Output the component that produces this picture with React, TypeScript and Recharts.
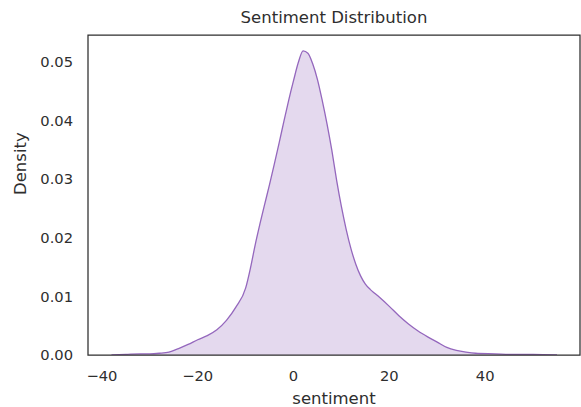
import React from 'react';
import {
  AreaChart,
  Area,
  XAxis,
  YAxis,
  ReferenceArea,
} from 'recharts';

// sentiment grid and KDE density
const SENTIMENT = [
  -38, -35, -32, -30, -28, -26, -24, -22, -20, -18, -16, -14, -12, -10, -9, -8, -7, -6, -5, -4,
  -3, -2, -1, 0, 1, 2, 3, 4, 5, 6, 7, 8, 9, 10, 11, 12, 13, 14, 15, 16, 17, 18, 20, 22, 24, 26,
  28, 30, 32, 34, 36, 38, 42, 46, 50, 55,
];
const DENSITY = [
  0.0, 0.0001, 0.0002, 0.0002, 0.0003, 0.0005, 0.0011, 0.0018, 0.0026, 0.0033, 0.0043, 0.0059,
  0.0082, 0.0114, 0.0148, 0.0188, 0.0224, 0.0258, 0.0291, 0.0326, 0.0362, 0.0399, 0.0435, 0.0468,
  0.0499, 0.0519, 0.0515, 0.0497, 0.0470, 0.0434, 0.0394, 0.0349, 0.0298, 0.0253, 0.0214, 0.0181,
  0.0155, 0.0135, 0.0121, 0.0112, 0.0105, 0.0098, 0.0083, 0.0067, 0.0053, 0.0041, 0.0031, 0.0022,
  0.0013, 0.0008, 0.0005, 0.0003, 0.0002, 0.0001, 0.0001, 0.0,
];
const X_TICKS = [-40, -20, 0, 20, 40];
const Y_TICKS = [0, 0.01, 0.02, 0.03, 0.04, 0.05];

const X_DOMAIN: [number, number] = [-42.9, 59.8];
const Y_DOMAIN: [number, number] = [0, 0.0546];

const data = SENTIMENT.map((s, i) => ({ sentiment: s, density: DENSITY[i] }));

const INK = '#2e2e2e';
const FONT = 'DejaVu Sans, sans-serif';

const fmtX = (v: number) => (v < 0 ? '\u2212' + Math.abs(v) : String(v));

export default function App() {
  return (
    <div style={{ position: 'absolute', left: 0, top: 0, width: 581, height: 407, background: '#fff', fontFamily: FONT }}>
      <div
        style={{
          position: 'absolute',
          left: 88,
          width: 492,
          top: 8,
          textAlign: 'center',
          fontSize: 16.5,
          color: INK,
        }}
      >
        Sentiment Distribution
      </div>
      <AreaChart width={581} height={407} data={data} margin={{ top: 35, right: 1, bottom: 0, left: 0 }}>
        <XAxis
          dataKey="sentiment"
          type="number"
          domain={X_DOMAIN}
          ticks={X_TICKS}
          tickFormatter={fmtX}
          allowDataOverflow
          axisLine={false}
          tickLine={false}
          tickSize={0}
          tickMargin={16}
          height={52}
          tick={{ fill: INK, fontSize: 14.7, fontFamily: FONT }}
          label={{ value: 'sentiment', position: 'insideBottom', offset: 3, fill: INK, fontSize: 16.5, fontFamily: FONT }}
        />
        <YAxis
          type="number"
          domain={Y_DOMAIN}
          ticks={Y_TICKS}
          tickFormatter={(v: number) => v.toFixed(2)}
          allowDataOverflow
          axisLine={false}
          tickLine={false}
          tickSize={0}
          tickMargin={15}
          width={88}
          tick={{ fill: INK, fontSize: 14.7, fontFamily: FONT }}
          label={{ value: 'Density', angle: -90, position: 'insideLeft', offset: 20, fill: INK, fontSize: 16.5, fontFamily: FONT }}
        />
        <Area
          type="monotone"
          dataKey="density"
          stroke="#9467bd"
          strokeWidth={1.3}
          fill="#9467bd"
          fillOpacity={0.25}
          isAnimationActive={false}
          dot={false}
          activeDot={false}
        />
        <ReferenceArea
          x1={X_DOMAIN[0]}
          x2={X_DOMAIN[1]}
          y1={Y_DOMAIN[0]}
          y2={Y_DOMAIN[1]}
          fill="none"
          stroke={INK}
          strokeWidth={1.25}
        />
      </AreaChart>
    </div>
  );
}
